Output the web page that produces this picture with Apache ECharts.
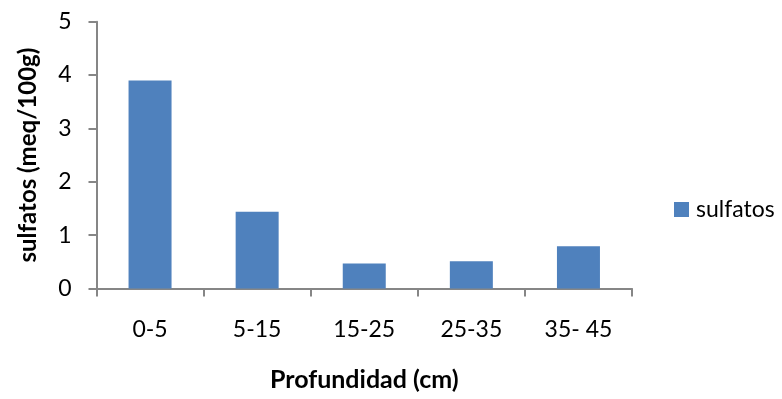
<!DOCTYPE html>
<html>
<head>
<meta charset="utf-8">
<script src="https://cdn.jsdelivr.net/npm/echarts@6/dist/echarts.min.js"></script>
<style>
  html, body { margin: 0; padding: 0; background: #fff; }
  #chart { width: 782px; height: 399px; }
</style>
</head>
<body>
<div id="chart"></div>
<script>
// Sulfate content by soil depth
const categories = ['0-5', '5-15', '15-25', '25-35', '35- 45'];
const sulfatos = [3.9, 1.44, 0.47, 0.51, 0.79];
const yTicks = [0, 1, 2, 3, 4, 5];

const FONT = 'Lato';
const AXIS_COLOR = '#868686';

const chart = echarts.init(document.getElementById('chart'), null, { renderer: 'canvas' });
chart.setOption({
  animation: false,
  backgroundColor: '#ffffff',
  textStyle: { fontFamily: FONT },
  grid: { left: 96.5, right: 150, top: 21.7, bottom: 110.5, containLabel: false },
  legend: {
    data: ['sulfatos'],
    left: 674,
    top: 198,
    padding: 0,
    itemWidth: 15,
    itemHeight: 15,
    icon: 'rect',
    textStyle: { fontFamily: FONT, fontSize: 23, color: '#000', padding: [0, 0, 0, 2] }
  },
  xAxis: {
    type: 'category',
    data: categories,
    name: 'Profundidad (cm)',
    nameLocation: 'middle',
    nameGap: 79,
    nameTextStyle: { fontFamily: FONT, fontSize: 25, fontWeight: 'bold', color: '#000' },
    axisLine: { lineStyle: { color: AXIS_COLOR, width: 2 } },
    axisTick: { show: true, alignWithLabel: false, length: 8, lineStyle: { color: AXIS_COLOR, width: 2 } },
    axisLabel: { fontFamily: FONT, fontSize: 23, color: '#000', margin: 30 }
  },
  yAxis: {
    type: 'value',
    min: yTicks[0],
    max: yTicks[yTicks.length - 1],
    interval: 1,
    name: 'sulfatos (meq/100g)',
    nameLocation: 'middle',
    nameGap: 56,
    nameRotate: 90,
    nameTextStyle: { fontFamily: FONT, fontSize: 24, fontWeight: 'bold', color: '#000' },
    splitLine: { show: false },
    axisLine: { show: true, lineStyle: { color: AXIS_COLOR, width: 2 } },
    axisTick: { show: true, length: 8, lineStyle: { color: AXIS_COLOR, width: 2 } },
    axisLabel: { fontFamily: FONT, fontSize: 23, color: '#000', margin: 25 }
  },
  series: [{
    name: 'sulfatos',
    type: 'bar',
    data: sulfatos,
    barWidth: 43,
    itemStyle: { color: '#4F81BD' }
  }]
});
</script>
</body>
</html>
